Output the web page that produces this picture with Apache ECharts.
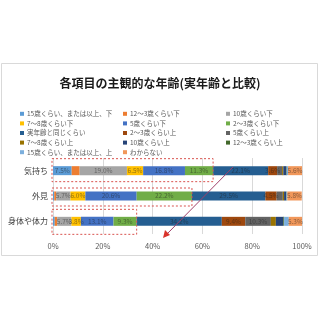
<!DOCTYPE html>
<html>
<head>
<meta charset="utf-8">
<script src="https://cdn.jsdelivr.net/npm/echarts@6/dist/echarts.min.js"></script>
<style>
  html, body { margin: 0; padding: 0; background: #fff; }
  #chart { width: 320px; height: 320px; }
</style>
</head>
<body>
<div id="chart"></div>
<script>
  // categories (top to bottom)
  const categories = ['気持ち', '外見', '身体や体力'];

  // series, in stacking / legend order
  const seriesNames = [
    '15歳くらい、または以上、下', '12～3歳くらい下', '10歳くらい下',
    '7～8歳くらい下', '5歳くらい下', '2～3歳くらい下',
    '実年齢と同じくらい', '2～3歳くらい上', '5歳くらい上',
    '7～8歳くらい上', '10歳くらい上', '12～3歳くらい上',
    '15歳くらい、または以上、上', 'わからない'
  ];

  // percent per category, same order as seriesNames
  const kimochiValues = [7.5, 3.2, 19.0, 6.5, 16.8, 11.3, 22.1, 3.6, 2.0, 0.5, 1.2, 0.2, 0.5, 5.6];
  const gaikenValues = [0.5, 0.8, 5.7, 6.0, 20.6, 22.2, 29.5, 4.5, 2.5, 0.5, 0.8, 0.2, 0.3, 5.8];
  const shintaiValues = [0.7, 1.0, 5.7, 3.8, 13.1, 9.3, 34.2, 9.4, 10.3, 2.0, 3.0, 0.3, 1.9, 5.3];

  const xTicks = [0, 20, 40, 60, 80, 100];

  // how many series count as "younger" (boxed in dashed red)
  const youngerCount = 6;

  const colors = [
    '#5b9bd5', '#ed7d31', '#a5a5a5', '#ffc000', '#4472c4', '#70ad47',
    '#255e91', '#9e480e', '#636363', '#997300', '#264478', '#43682b',
    '#7cafdd', '#f1975a'
  ];

  const rows = [kimochiValues, gaikenValues, shintaiValues];
  const font = '"Noto Sans CJK JP", "Noto Sans", sans-serif';

  let chart = echarts.init(document.getElementById('chart'));

  let series = seriesNames.map(function (name, i) {
    return {
      name: name,
      type: 'bar',
      stack: 'total',
      barWidth: 9,
      itemStyle: {color: colors[i]},
      label: {
        show: true,
        position: 'inside',
        fontSize: 6.5,
        fontFamily: font,
        color: 'rgba(30,30,30,0.5)',
        formatter: function (p) {
          return p.value >= 3.5 ? p.value.toFixed(1) + '%' : '';
        }
      },
      data: rows.map(function (r) { return r[i]; })
    };
  });

  function legendCol(idx, left) {
    return {
      orient: 'vertical',
      left: left,
      top: 104,
      itemWidth: 4,
      itemHeight: 4,
      itemGap: 0,
      icon: 'rect',
      textStyle: {fontSize: 6.5, lineHeight: 9.6, color: '#595959', fontFamily: font, padding: [0, 0, 0, -2]},
      data: idx.map(function (i) { return seriesNames[i]; })
    };
  }

  let option = {
    animation: false,
    backgroundColor: '#fff',
    color: colors,
    title: {
      text: '各項目の主観的な年齢(実年齢と比較)',
      left: 'center',
      top: 72,
      textStyle: {fontSize: 12, fontWeight: 'bold', color: '#1a1a1a', fontFamily: font}
    },
    legend: [
      legendCol([0, 3, 6, 9, 12], 15),
      legendCol([1, 4, 7, 10, 13], 118),
      legendCol([2, 5, 8, 11], 221)
    ],
    grid: {left: 53, right: 18, top: 158, bottom: 86},
    xAxis: {
      type: 'value',
      min: 0,
      max: 100,
      interval: 20,
      axisLine: {show: false},
      axisTick: {show: false},
      splitLine: {lineStyle: {color: '#d9d9d9'}},
      axisLabel: {
        fontSize: 7.5, color: '#595959', fontFamily: font, margin: 8,
        formatter: function (v) { return xTicks.indexOf(v) >= 0 ? v + '%' : ''; }
      }
    },
    yAxis: {
      type: 'category',
      inverse: true,
      data: categories,
      axisLine: {show: false},
      axisTick: {show: false},
      axisLabel: {fontSize: 8, color: '#404040', fontFamily: font, margin: 5}
    },
    series: series
  };

  chart.setOption(option);

  // frame, dashed boxes round the "younger" part, and the arrow
  let graphics = [{
    type: 'rect',
    shape: {x: 1.5, y: 63.5, width: 316, height: 192},
    style: {fill: null, stroke: '#d9d9d9', lineWidth: 1},
    silent: true, z: -1
  }];

  const boxPad = [[-12, 11], [-8, 10], [-12, 13]];
  rows.forEach(function (r, k) {
    let sum = 0;
    for (let i = 0; i < youngerCount; i++) sum += r[i];
    let p0 = chart.convertToPixel({gridIndex: 0}, [0, k]);
    let p1 = chart.convertToPixel({gridIndex: 0}, [sum, k]);
    graphics.push({
      type: 'rect',
      shape: {x: p0[0] - 1, y: p0[1] + boxPad[k][0], width: p1[0] - p0[0] + 1, height: boxPad[k][1] - boxPad[k][0]},
      style: {fill: null, stroke: '#d9534f', lineWidth: 1, lineDash: [2, 2]},
      silent: true, z: 10
    });
  });

  graphics.push({
    type: 'line',
    shape: {x1: 233, y1: 167, x2: 166, y2: 235},
    style: {stroke: '#a0406a', lineWidth: 1},
    silent: true, z: 11
  });
  graphics.push({
    type: 'polygon',
    shape: {points: [[163, 238], [165, 230], [170, 235]]},
    style: {fill: '#d9342b'},
    silent: true, z: 11
  });

  chart.setOption({graphic: graphics});
</script>
</body>
</html>
